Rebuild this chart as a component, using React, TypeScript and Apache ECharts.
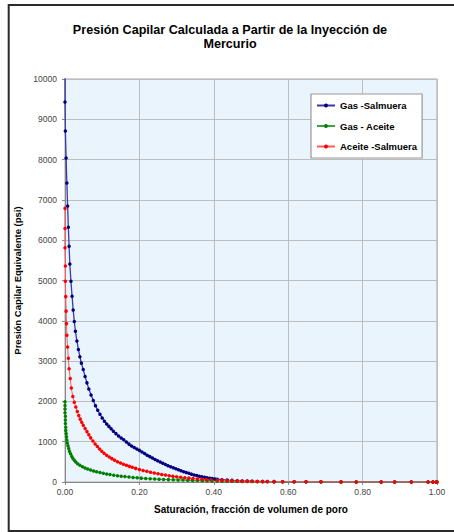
import React, { useEffect, useRef } from "react";
import * as echarts from "echarts";

const TITLE = "Presión Capilar Calculada a Partir de la Inyección de\nMercurio";
const X_NAME = "Saturación, fracción de volumen de poro";
const Y_NAME = "Presión Capilar Equivalente (psi)";
const SERIES_NAMES = ["Gas -Salmuera", "Gas - Aceite", "Aceite -Salmuera"];

// [saturación, Pc psi]
const gasSalmuera: [number, number][] = [
  [0.000, 10300], [0.000, 9430], [0.001, 8710], [0.003, 8040], [0.005, 7420], [0.007, 6850],
  [0.009, 6320], [0.011, 5850], [0.013, 5410], [0.016, 4980], [0.019, 4610], [0.022, 4270],
  [0.025, 3980], [0.028, 3740], [0.032, 3500], [0.036, 3290], [0.040, 3110], [0.044, 2950],
  [0.049, 2790], [0.054, 2620], [0.059, 2460], [0.064, 2310], [0.070, 2160], [0.076, 2020],
  [0.082, 1890], [0.088, 1780], [0.094, 1680], [0.100, 1590], [0.106, 1510], [0.112, 1440],
  [0.118, 1380], [0.124, 1320], [0.130, 1260], [0.137, 1200], [0.144, 1140], [0.151, 1090],
  [0.158, 1050], [0.165, 990], [0.172, 940], [0.179, 895], [0.186, 855], [0.193, 820],
  [0.200, 785], [0.207, 745], [0.214, 705], [0.221, 665], [0.228, 630], [0.235, 595],
  [0.242, 560], [0.249, 525], [0.256, 495], [0.263, 465], [0.270, 435], [0.277, 405],
  [0.284, 380], [0.291, 355], [0.298, 330], [0.305, 305], [0.312, 280], [0.319, 255],
  [0.326, 235], [0.333, 215], [0.340, 195], [0.347, 175], [0.354, 160], [0.361, 145],
  [0.368, 130], [0.375, 118], [0.382, 106], [0.389, 95], [0.396, 85], [0.403, 76],
  [0.409, 68], [0.422, 58], [0.436, 48], [0.449, 40], [0.463, 33], [0.476, 27],
  [0.490, 22], [0.503, 18], [0.517, 15], [0.531, 13], [0.544, 11], [0.562, 9],
  [0.585, 8], [0.616, 6], [0.648, 5], [0.688, 4], [0.742, 3], [0.783, 2],
  [0.850, 2], [0.886, 1], [0.931, 1], [0.976, 1], [0.989, 0], [0.998, 0], [1.000, 0],
];

const gasAceite: [number, number][] = [
  [0.000, 1990], [0.000, 1900], [0.000, 1810], [0.000, 1720], [0.001, 1630], [0.001, 1540],
  [0.001, 1450], [0.002, 1360], [0.002, 1280], [0.003, 1200], [0.004, 1120], [0.005, 1040],
  [0.006, 970], [0.008, 900], [0.010, 830], [0.012, 760], [0.015, 700], [0.018, 640],
  [0.021, 590], [0.025, 540], [0.029, 497], [0.034, 455], [0.040, 415], [0.047, 380],
  [0.054, 350], [0.061, 323], [0.069, 298], [0.077, 275], [0.085, 255], [0.094, 235],
  [0.103, 217], [0.112, 200], [0.121, 185], [0.131, 170], [0.141, 157], [0.151, 145],
  [0.161, 134], [0.172, 123], [0.183, 113], [0.194, 104], [0.205, 96], [0.217, 88],
  [0.229, 81], [0.241, 75], [0.253, 69], [0.265, 64], [0.278, 59], [0.291, 55],
  [0.304, 51], [0.317, 47], [0.330, 43], [0.343, 40], [0.356, 37], [0.369, 34],
  [0.382, 31], [0.395, 28], [0.409, 25], [0.422, 22], [0.436, 20], [0.449, 18],
  [0.463, 16], [0.476, 14], [0.490, 12], [0.503, 11], [0.517, 10], [0.531, 9],
  [0.544, 8], [0.562, 7], [0.585, 6], [0.616, 5], [0.648, 4], [0.688, 3],
  [0.742, 2], [0.783, 2], [0.850, 1], [0.886, 1], [0.931, 1], [0.976, 0],
  [0.989, 0], [0.998, 0], [1.000, 0],
];

const aceiteSalmuera: [number, number][] = [
  [0.000, 6790], [0.000, 6290], [0.000, 5810], [0.001, 5360], [0.001, 4980], [0.002, 4600],
  [0.003, 4240], [0.004, 3930], [0.005, 3640], [0.007, 3350], [0.009, 3070], [0.011, 2810],
  [0.014, 2570], [0.017, 2330], [0.021, 2120], [0.025, 1980], [0.029, 1860], [0.033, 1750],
  [0.037, 1650], [0.041, 1560], [0.045, 1480], [0.049, 1410], [0.054, 1330], [0.059, 1250],
  [0.064, 1170], [0.069, 1095], [0.075, 1015], [0.081, 945], [0.087, 880], [0.093, 820],
  [0.099, 765], [0.105, 715], [0.112, 665], [0.119, 620], [0.126, 580], [0.133, 543],
  [0.141, 505], [0.149, 470], [0.157, 440], [0.165, 413], [0.173, 388], [0.181, 364],
  [0.190, 338], [0.200, 310], [0.210, 287], [0.220, 265], [0.230, 244], [0.240, 224],
  [0.250, 205], [0.260, 188], [0.270, 172], [0.280, 157], [0.290, 143], [0.300, 130],
  [0.311, 118], [0.322, 106], [0.333, 96], [0.344, 86], [0.356, 77], [0.368, 69],
  [0.380, 61], [0.392, 54], [0.409, 46], [0.422, 40], [0.436, 35], [0.449, 30],
  [0.463, 26], [0.476, 22], [0.490, 19], [0.503, 16], [0.517, 14], [0.531, 12],
  [0.544, 10], [0.562, 9], [0.585, 8], [0.616, 6], [0.648, 5], [0.688, 4],
  [0.742, 3], [0.783, 2], [0.850, 2], [0.886, 1], [0.931, 1], [0.976, 1],
  [0.989, 0], [0.998, 0], [1.000, 0],
];

const FONT = "'Liberation Sans', Arial, sans-serif";

export default function App() {
  const ref = useRef<HTMLDivElement>(null);
  useEffect(() => {
    if (!ref.current) return;
    const chart = echarts.init(ref.current, undefined, { renderer: "svg" });
    const mk = (name: string, data: [number, number][], line: string, dot: string, w: number) => ({
      name,
      type: "line",
      data,
      symbol: "circle",
      symbolSize: 3.5,
      showSymbol: true,
      clip: true,
      lineStyle: { color: line, width: w },
      itemStyle: { color: dot },
      emphasis: { disabled: true },
    });
    chart.setOption({
      animation: false,
      backgroundColor: "#ffffff",
      textStyle: { fontFamily: FONT },
      graphic: [
        {
          type: "rect",
          silent: true,
          shape: { x: 8.7, y: 5, width: 480, height: 526 },
          style: { fill: "none", stroke: "#2a2a2a", lineWidth: 2 },
        },
        {
          type: "text",
          silent: true,
          style: {
            text: TITLE,
            x: 230,
            y: 23,
            textAlign: "center",
            textVerticalAlign: "top",
            font: `bold 12.6px ${FONT}`,
            lineHeight: 14,
            fill: "#000",
          },
        },
      ],
      grid: {
        left: 65,
        right: 17,
        top: 79,
        bottom: 50,
        show: true,
        backgroundColor: "#EAF4FD",
        borderColor: "#a8a8a8",
        borderWidth: 1,
      },
      legend: {
        orient: "vertical",
        left: 311,
        top: 94,
        itemWidth: 18,
        itemHeight: 5,
        itemGap: 10.5,
        padding: [6.5, 5, 6.5, 5],
        backgroundColor: "#ffffff",
        borderColor: "#999999",
        borderWidth: 1.2,
        textStyle: { fontWeight: "bold", fontSize: 9.5, color: "#000", fontFamily: FONT },
        data: SERIES_NAMES,
      },
      xAxis: {
        type: "value",
        min: 0,
        max: 1,
        interval: 0.2,
        name: X_NAME,
        nameLocation: "middle",
        nameGap: 22,
        nameTextStyle: { fontWeight: "bold", fontSize: 10, color: "#000", fontFamily: FONT },
        axisLine: { show: true, lineStyle: { color: "#888" } },
        axisTick: { show: true, length: 3, lineStyle: { color: "#888" } },
        axisLabel: {
          formatter: (v: number) => v.toFixed(2),
          fontSize: 8.5,
          color: "#444",
          margin: 5,
          fontFamily: FONT,
        },
        splitLine: { show: true, lineStyle: { color: "#bdbdbd" } },
      },
      yAxis: {
        type: "value",
        min: 0,
        max: 10000,
        interval: 1000,
        name: Y_NAME,
        nameLocation: "middle",
        nameRotate: 90,
        nameGap: 25,
        nameTextStyle: { fontWeight: "bold", fontSize: 9.5, color: "#000", fontFamily: FONT },
        axisLine: { show: true, lineStyle: { color: "#888" } },
        axisTick: { show: true, length: 3, lineStyle: { color: "#888" } },
        axisLabel: {
          formatter: (v: number) => String(v),
          fontSize: 8.5,
          color: "#444",
          margin: 8,
          fontFamily: FONT,
        },
        splitLine: { show: true, lineStyle: { color: "#bdbdbd" } },
      },
      series: [
        mk(SERIES_NAMES[0], gasSalmuera, "#3a3aa6", "#000080", 1.3),
        mk(SERIES_NAMES[1], gasAceite, "#3fa03f", "#008000", 1),
        mk(SERIES_NAMES[2], aceiteSalmuera, "#ff5a5a", "#ff0000", 1),
      ],
    });
    return () => chart.dispose();
  }, []);
  return (
    <div
      ref={ref}
      style={{ position: "absolute", left: 0, top: 0, width: 454, height: 532 }}
    />
  );
}
